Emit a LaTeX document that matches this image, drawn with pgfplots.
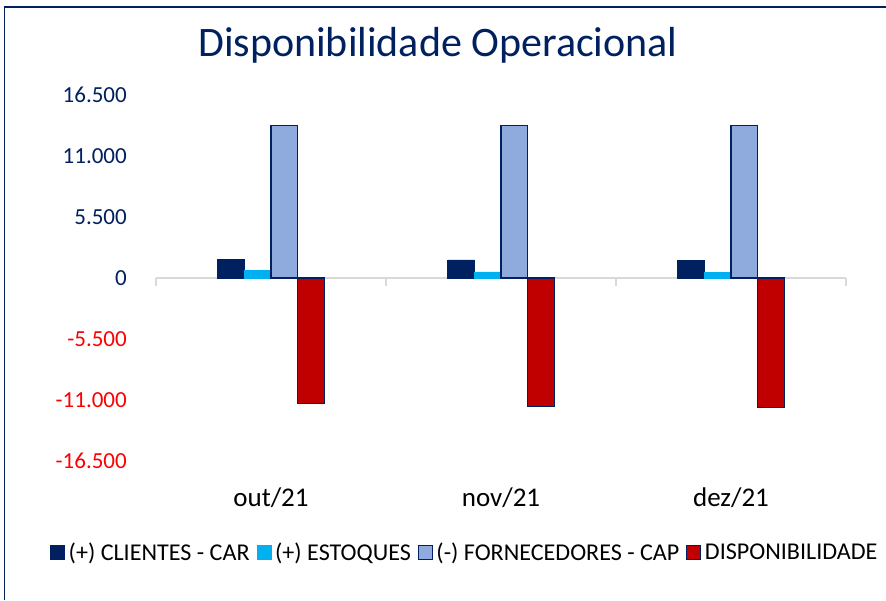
\documentclass[border=0pt]{standalone}
\usepackage{pgfplots}
\pgfplotsset{compat=1.18}
\usepackage{fontspec}
\setmainfont{Carlito}
\definecolor{navy}{HTML}{002060}
\definecolor{cyanb}{HTML}{00B0F0}
\definecolor{lightb}{HTML}{8FAADC}
\definecolor{darkred}{HTML}{C00000}
\definecolor{negred}{HTML}{FF0000}
\definecolor{axgray}{HTML}{D9D9D9}
\begin{document}
\begin{tikzpicture}[x=1pt,y=1pt]
\useasboundingbox (0,0) rectangle (886,600);
\draw[navy, line width=1.5pt] (4.5,0) -- (4.5,593) -- (886,593);
\node[navy, font=\fontsize{42}{48}\selectfont, inner sep=0pt] at (438,555) {Disponibilidade Operacional};
\begin{axis}[
  at={(156pt,139pt)}, anchor=south west,
  scale only axis, width=690pt, height=366pt,
  xmin=-0.5, xmax=2.5, ymin=-16500, ymax=16500,
  scaled y ticks=false,
  axis line style={draw=none},
  major tick length=0pt,
  ybar=0pt, bar width=26.7pt,
  xtick={0,1,2}, xticklabels={out/21,nov/21,dez/21},
  xticklabel style={font=\fontsize{27}{30}\selectfont, anchor=base, inner sep=0pt, yshift=-45pt},
  ytick={-16500,-11000,-5500,0,5500,11000,16500},
  yticklabels={\textcolor{negred}{-16.500},\textcolor{negred}{-11.000},\textcolor{negred}{-5.500},\textcolor{navy}{0},\textcolor{navy}{5.500},\textcolor{navy}{11.000},\textcolor{navy}{16.500}},
  yticklabel style={font=\fontsize{23}{26}\selectfont, anchor=east, inner sep=0pt, xshift=-29pt},
  legend columns=4,
  legend style={at={(-0.1536,-0.251)}, anchor=west, draw=none, fill=none, inner sep=0pt,
    font=\fontsize{24.1}{26}\selectfont, column sep=0pt,
    nodes={inner sep=0pt},
    /tikz/every odd column/.style={column sep=3.5pt},
    /tikz/every even column/.style={column sep=7pt}},
  legend image code/.code={\draw[#1, line width=1pt] (0pt,-7pt) rectangle (14pt,7pt);},
  clip=false,
]
\draw[axgray, line width=1.5pt] (axis cs:-0.5,0) -- (axis cs:2.5,0);
\draw[axgray, line width=1.5pt] (axis cs:-0.5,0) -- ++(0pt,-8pt);
\draw[axgray, line width=1.5pt] (axis cs:0.5,0) -- ++(0pt,-8pt);
\draw[axgray, line width=1.5pt] (axis cs:1.5,0) -- ++(0pt,-8pt);
\draw[axgray, line width=1.5pt] (axis cs:2.5,0) -- ++(0pt,-8pt);
\addplot[fill=navy, draw=navy] coordinates {(0,1713) (1,1623) (2,1596)};
\addlegendentry{(+) CLIENTES - CAR}
\addplot[fill=cyanb, draw=cyanb] coordinates {(0,721) (1,541) (2,478)};
\addlegendentry{(+) ESTOQUES}
\addplot[fill=lightb, draw=navy, line width=1.2pt] coordinates {(0,13767) (1,13767) (2,13767)};
\addlegendentry{(-) FORNECEDORES - CAP}
\addplot[fill=darkred, draw=navy, line width=1.2pt] coordinates {(0,-11333) (1,-11603) (2,-11693)};
\addlegendentry{DISPONIBILIDADE}
\end{axis}
\end{tikzpicture}
\end{document}
